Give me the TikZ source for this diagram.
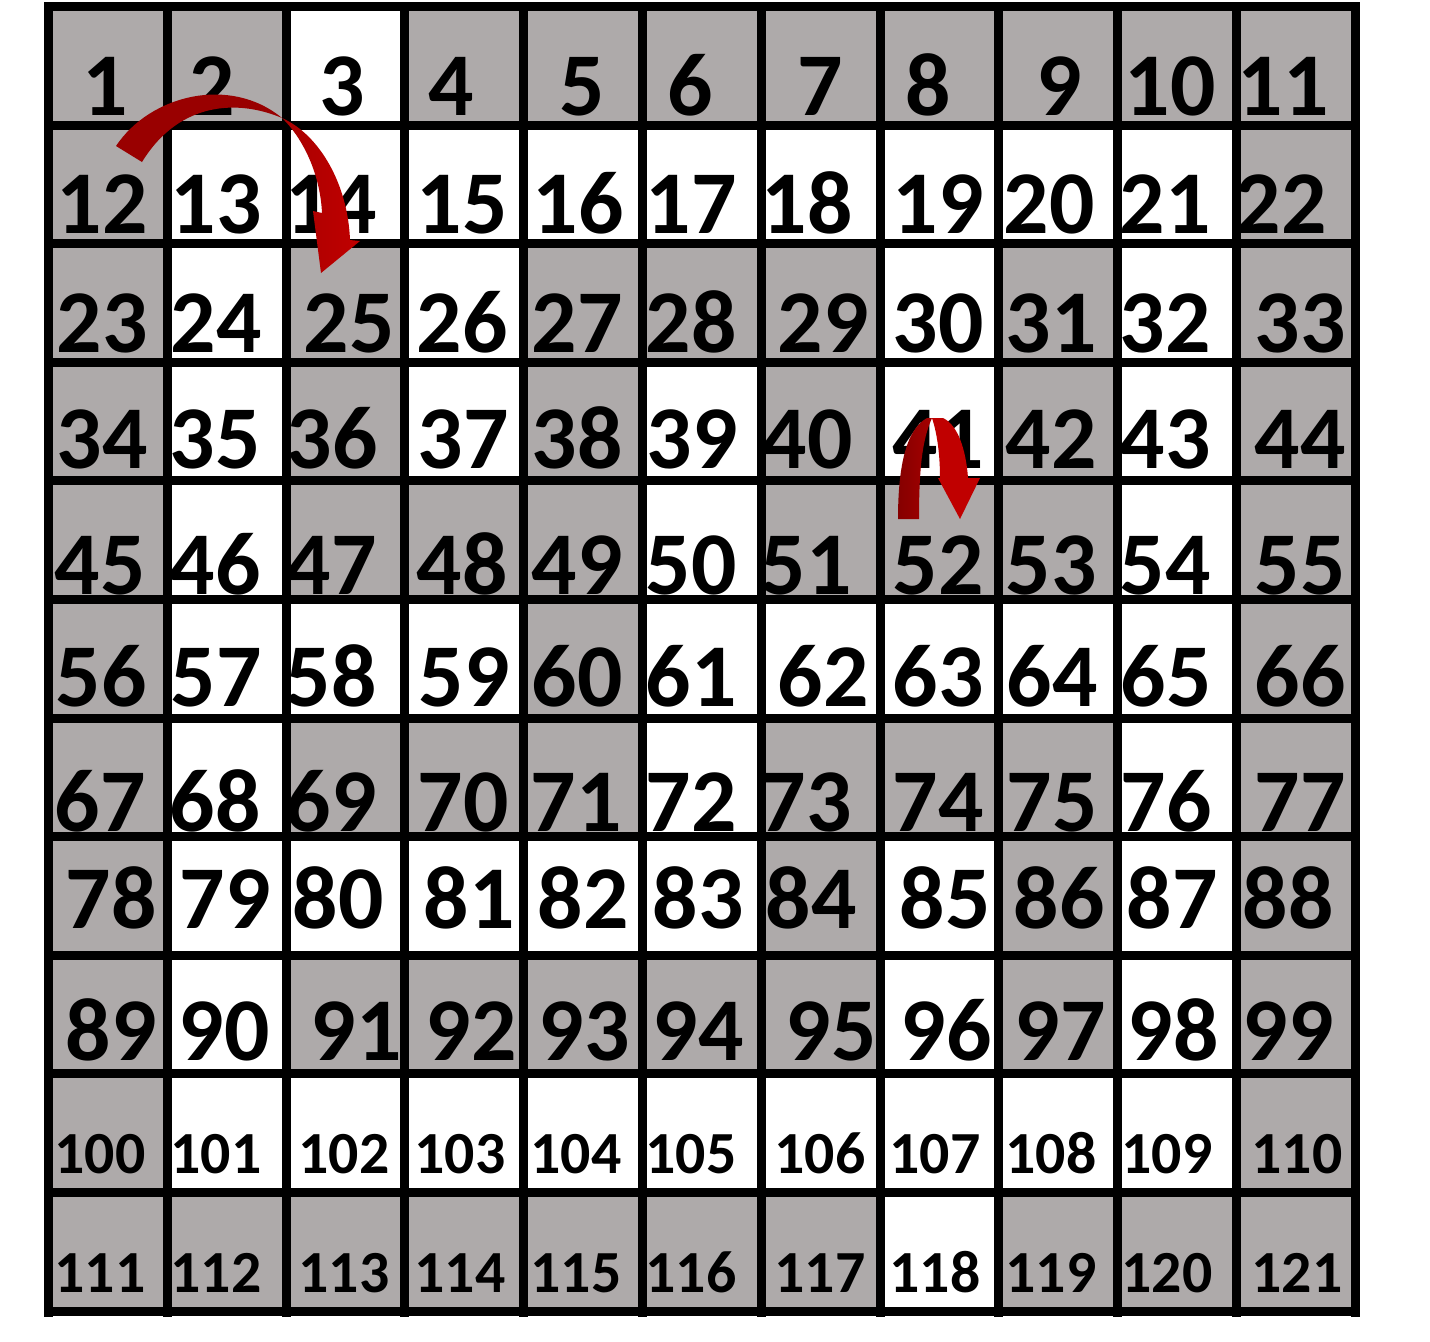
\documentclass[tikz,border=0pt]{standalone}
\usepackage{fontspec}
\setmainfont{Carlito}
\usepackage{tikz}

\definecolor{cellgray}{HTML}{AEAAAA}
\definecolor{arrowdark}{HTML}{990000}
\definecolor{arrowred}{HTML}{C00000}
\definecolor{arrowdeep}{HTML}{850000}

\begin{document}
\begin{tikzpicture}[x=0.02cm,y=-0.02cm,
        gridline/.style={line width=0.18cm},
        bignum/.style={anchor=base,inner sep=0pt,font=\bfseries\fontsize{51}{51}\selectfont},
        smallnum/.style={anchor=base,inner sep=0pt,font=\bfseries\fontsize{34}{34}\selectfont}]
    \useasboundingbox (0,0) rectangle (1430,1342);
    % cells
    \fill[cellgray] (48.5,6.5) rectangle (1355.3,1312.5);
    \foreach \r/\cl in {1/{3},2/{2,...,10},3/{2,4,8,10},4/{2,4,6,8,10},5/{2,6,10},6/{2,3,4,6,7,8,9,10},
            7/{2,6,10},8/{2,3,4,5,6,8,10},9/{2,8,10},10/{2,...,10},11/{8}}
        \foreach \c in \cl
            \fill[white] ({48.5+(\c-1)*118.8},{6.5+(\r-1)*118.6}) rectangle +(118.8,118.6);
    % grid
    \foreach \i in {0,...,11} {
        \draw[gridline] ({48.5+\i*118.8},2) -- ({48.5+\i*118.8},1317);
        \draw[gridline] (44,{6.5+\i*118.6}) -- (1359.8,{6.5+\i*118.6});
    }
    % numbers, one row per entry: baseline/style/centres
    \foreach \b/\sty/\xl [count=\r] in {
            115/bignum/{105,212,342,451,582,690,820,928,1059,1170,1283},
            233/bignum/{102,216,331,462,578,691,807,938,1049,1165,1281},
            352/bignum/{102,216,349,462,577,691,823,938,1051,1165,1300},
            468/bignum/{102,215,332,463,577,692,807,938,1051,1165,1300},
            594/bignum/{100,215,331,462,577,691,806,938,1051,1165,1300},
            706/bignum/{101,216,331,464,577,691,823,938,1052,1166,1300},
            831/bignum/{100,215,331,463,576,691,806,938,1052,1166,1300},
            928/bignum/{111,225,338,469,583,698,811,945,1059,1172,1288},
            1060/bignum/{111,224,356,471,584,698,831,946,1060,1173,1288},
            1173/smallnum/{100,216,344,460,576,691,820,935,1051,1167,1297},
            1292/smallnum/{100,216,344,460,576,691,820,935,1051,1167,1297}} {
        \foreach \x [count=\c] in \xl {
            \pgfmathtruncatemacro\num{(\r-1)*11+\c}
            \node[\sty] (n\num) at (\x,\b) {\num};
        }
    }
    % arrow over 2 and 14 down to 25
    \coordinate (twistA) at (282,118);
    \fill[arrowdark] (116,146) .. controls (150,95) and (230,75) .. (twistA)
        .. controls (240,100) and (180,100) .. (142,162) -- cycle;
    \shade[left color=arrowdark!60!arrowred, right color=arrowred] (twistA)
        .. controls (320,135) and (348,185) .. (350,240) -- (360,241) -- (321,273) -- (313,211) -- (322,213)
        .. controls (320,170) and (300,135) .. (twistA) -- cycle;
    % arrow from 52 over 41 back to 52
    \coordinate (twistB) at (932,418);
    \shade[left color=arrowdeep, right color=arrowdark!70!arrowred] (898,519)
        .. controls (898,470) and (905,430) .. (927,418) -- (twistB)
        .. controls (922,440) and (919,470) .. (919,519) -- cycle;
    \fill[arrowred] (twistB) -- (943,418) .. controls (958,425) and (966,450) .. (968,478) -- (980,478)
        -- (960,519) -- (938,478) -- (940,478) .. controls (940,450) and (936,430) .. (twistB) -- cycle;
\end{tikzpicture}
\end{document}
